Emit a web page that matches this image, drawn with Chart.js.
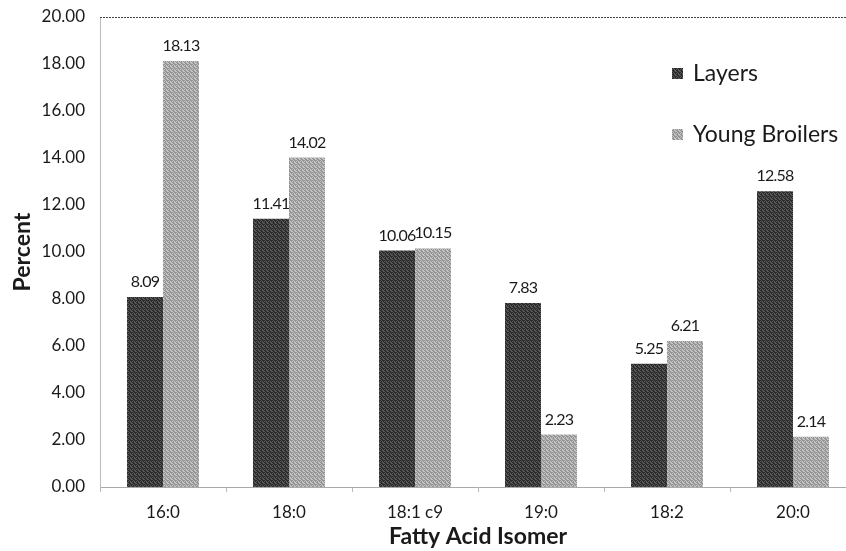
<!DOCTYPE html>
<html><head><meta charset="utf-8">
<script src="https://cdn.jsdelivr.net/npm/chart.js@4/dist/chart.umd.min.js"></script>
<style>html,body{margin:0;padding:0;background:#fff;overflow:hidden}#wrap{width:858px;height:551px}</style>
</head><body><div id="wrap"><canvas id="c" width="858" height="551"></canvas></div>
<script>
const categories = ["16:0", "18:0", "18:1 c9", "19:0", "18:2", "20:0"];
const layers = [8.09, 11.41, 10.06, 7.83, 5.25, 12.58];
const youngBroilers = [18.13, 14.02, 10.15, 2.23, 6.21, 2.14];
const seriesNames = ["Layers", "Young Broilers"];
const yTicks = [0, 2, 4, 6, 8, 10, 12, 14, 16, 18, 20];

const FONT = "Lato, 'Open Sans', sans-serif";
const TXT = "#1a1a1a";

function ditherPattern(c1, c2) {
  const cv = document.createElement('canvas');
  cv.width = 4; cv.height = 4;
  const g = cv.getContext('2d');
  const m = [[1,0,1,1],[0,1,0,1],[1,1,0,0],[0,1,1,0]];
  for (let y = 0; y < 4; y++) for (let x = 0; x < 4; x++) {
    g.fillStyle = m[y][x] ? c1 : c2;
    g.fillRect(x, y, 1, 1);
  }
  return g.createPattern(cv, 'repeat');
}
const darkFill = ditherPattern("#2a2a2a", "#585858");
const lightFill = ditherPattern("#949494", "#c4c4c4");

const labelPlugin = {
  id: 'valLabels',
  afterDatasetsDraw(chart) {
    const ctx = chart.ctx;
    ctx.save();
    ctx.font = "16px " + FONT;
    if ('letterSpacing' in ctx) ctx.letterSpacing = "-0.8px";
    ctx.fillStyle = TXT;
    ctx.textAlign = "center";
    ctx.textBaseline = "alphabetic";
    chart.data.datasets.forEach((ds, i) => {
      chart.getDatasetMeta(i).data.forEach((bar, j) => {
        ctx.fillText(ds.data[j].toFixed(2), bar.x, bar.y - 10);
      });
    });
    ctx.restore();
  }
};

const legendPlugin = {
  id: 'customLegend',
  afterDraw(chart) {
    const ctx = chart.ctx;
    ctx.save();
    ctx.font = "23px " + FONT;
    ctx.textBaseline = "middle";
    ctx.textAlign = "left";
    const x0 = 672, ys = [73, 134];
    chart.data.datasets.forEach((ds, i) => {
      ctx.fillStyle = ds.backgroundColor;
      ctx.fillRect(x0, ys[i] - 5, 11, 11);
      ctx.fillStyle = TXT;
      ctx.fillText(ds.label, x0 + 21, ys[i] + 1);
    });
    ctx.restore();
  }
};

const framePlugin = {
  id: 'frame',
  beforeDatasetsDraw(chart) {
    const {ctx, chartArea: a} = chart;
    ctx.save();
    ctx.setLineDash([2, 1]);
    ctx.strokeStyle = "#444";
    ctx.lineWidth = 1;
    ctx.beginPath();
    ctx.moveTo(a.left, a.top + 0.5);
    ctx.lineTo(a.right, a.top + 0.5);
    ctx.stroke();
    ctx.restore();
  }
};

new Chart(document.getElementById('c'), {
  type: 'bar',
  data: {
    labels: categories,
    datasets: [
      { label: seriesNames[0], data: layers, backgroundColor: darkFill, borderWidth: 0 },
      { label: seriesNames[1], data: youngBroilers, backgroundColor: lightFill, borderWidth: 0 }
    ]
  },
  options: {
    responsive: false,
    animation: false,
    devicePixelRatio: 1,
    layout: { padding: { top: 17, right: 2, left: 0, bottom: 0 } },
    datasets: { bar: { barPercentage: 1.0, categoryPercentage: 0.571 } },
    plugins: { legend: { display: false }, tooltip: { enabled: false } },
    scales: {
      x: {
        afterFit(s) { s.height = 64; s.paddingLeft = 0; s.paddingRight = 0; },
        grid: { display: true, drawOnChartArea: false, tickLength: 5, color: "#bbb", offset: true },
        border: { display: true, color: "#aaa", dash: [2, 2] },
        ticks: { font: { family: FONT, size: 17 }, color: TXT, padding: 10 },
        title: { display: true, text: "Fatty Acid Isomer", font: { family: FONT, size: 23, weight: "bold" }, color: TXT, padding: { top: 0, bottom: 1 } }
      },
      y: {
        min: 0, max: 20,
        afterBuildTicks(axis) { axis.ticks = yTicks.map(v => ({ value: v })); },
        afterFit(s) { s.width = 100; s.paddingTop = 0; s.paddingBottom = 0; },
        grid: { display: false, drawTicks: false },
        border: { display: true, color: "#bbb", dash: [2, 2] },
        ticks: { font: { family: FONT, size: 17 }, color: TXT, padding: 15, callback: v => Number(v).toFixed(2) },
        title: { display: true, text: "Percent", font: { family: FONT, size: 23, weight: "bold" }, color: TXT, padding: { top: 9, bottom: 0 } }
      }
    }
  },
  plugins: [framePlugin, labelPlugin, legendPlugin]
});
</script></body></html>
